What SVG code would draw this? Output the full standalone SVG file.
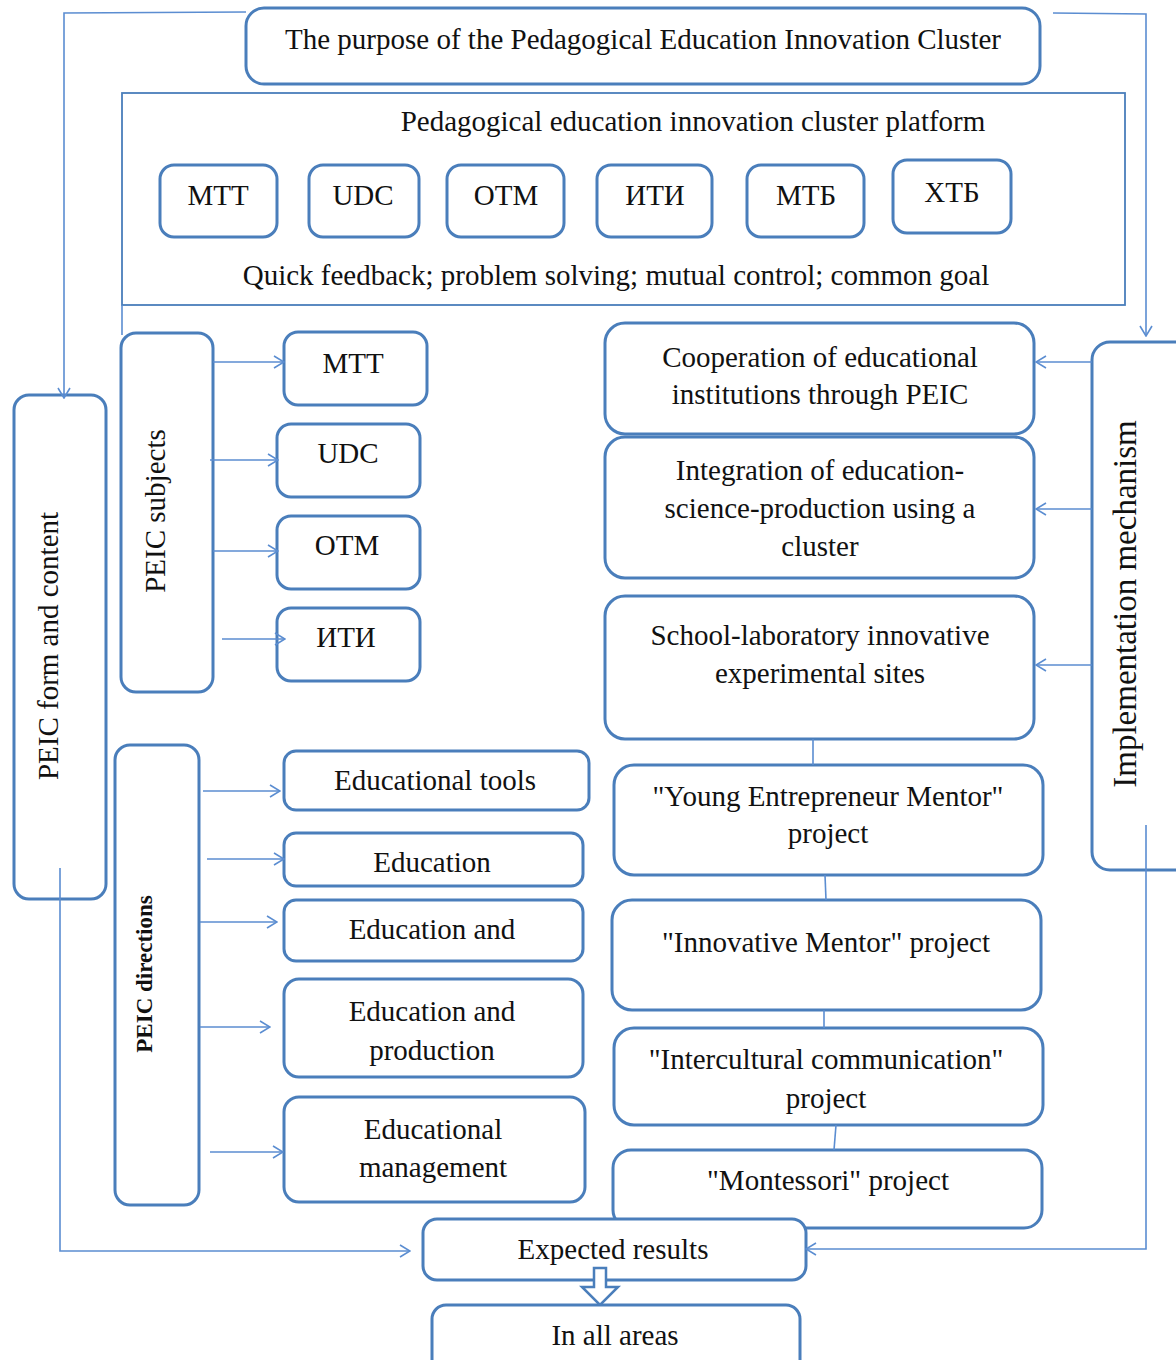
<svg xmlns="http://www.w3.org/2000/svg" width="1176" height="1360" viewBox="0 0 1176 1360">
<defs>
<style>
.box{fill:#fff;stroke:#4a7ebb;stroke-width:3}
.plat{fill:none;stroke:#4a7ebb;stroke-width:1.8}
.ln{fill:none;stroke:#5b8dd1;stroke-width:1.6}
.t{font-family:"Liberation Serif","Times New Roman",serif;font-size:29px;fill:#111;text-anchor:middle}
.tb{font-family:"Liberation Serif","Times New Roman",serif;font-size:23px;font-weight:bold;fill:#111;text-anchor:middle}
</style>
<marker id="ah" viewBox="0 0 12 14" refX="11" refY="7" markerWidth="12" markerHeight="14" markerUnits="userSpaceOnUse" orient="auto">
<path d="M1,1 L11,7 L1,13" fill="none" stroke="#5b8dd1" stroke-width="1.6"/>
</marker>
</defs>
<rect width="1176" height="1360" fill="#fff"/>

<g id="purpose">
<rect class="box" x="246" y="8" width="794" height="76" rx="18"/>
<text class="t" x="643" y="49">The purpose of the Pedagogical Education Innovation Cluster</text>
</g>

<g id="platform">
<rect class="plat" x="122" y="93" width="1003" height="212"/>
<text class="t" x="693" y="131">Pedagogical education innovation cluster platform</text>
<text class="t" x="616" y="285">Quick feedback; problem solving; mutual control; common goal</text>
</g>
<g id="p-mtt"><rect class="box" x="160" y="165" width="117" height="72" rx="14"/><text class="t" x="218" y="205">MTT</text></g>
<g id="p-udc"><rect class="box" x="309" y="165" width="110" height="72" rx="14"/><text class="t" x="363" y="205">UDC</text></g>
<g id="p-otm"><rect class="box" x="447" y="165" width="117" height="72" rx="14"/><text class="t" x="506" y="205">OTM</text></g>
<g id="p-iti"><rect class="box" x="597" y="165" width="115" height="72" rx="14"/><text class="t" x="655" y="205">ИТИ</text></g>
<g id="p-mtb"><rect class="box" x="747" y="165" width="117" height="72" rx="14"/><text class="t" x="806" y="205">МТБ</text></g>
<g id="p-xtb"><rect class="box" x="893" y="160" width="118" height="73" rx="14"/><text class="t" x="952" y="202">ХТБ</text></g>

<g id="form-content">
<rect class="box" x="14" y="395" width="92" height="504" rx="15"/>
<text class="t" x="58" y="646" transform="rotate(-90 58 646)">PEIC form and content</text>
</g>

<g id="subjects">
<rect class="box" x="121" y="333" width="92" height="359" rx="15"/>
<text class="t" x="165" y="511" transform="rotate(-90 165 511)">PEIC subjects</text>
</g>
<g id="s-mtt"><rect class="box" x="284" y="332" width="143" height="73" rx="14"/><text class="t" x="353" y="373">MTT</text></g>
<g id="s-udc"><rect class="box" x="277" y="424" width="143" height="73" rx="14"/><text class="t" x="348" y="463">UDC</text></g>
<g id="s-otm"><rect class="box" x="277" y="516" width="143" height="73" rx="14"/><text class="t" x="347" y="555">OTM</text></g>
<g id="s-iti"><rect class="box" x="277" y="608" width="143" height="73" rx="14"/><text class="t" x="346" y="647">ИТИ</text></g>

<g id="directions">
<rect class="box" x="115" y="745" width="84" height="460" rx="15"/>
<text class="tb" x="152" y="974" transform="rotate(-90 152 974)">PEIC directions</text>
</g>
<g id="d-tools"><rect class="box" x="284" y="751" width="305" height="59" rx="12"/><text class="t" x="435" y="790">Educational tools</text></g>
<g id="d-edu"><rect class="box" x="284" y="833" width="299" height="53" rx="12"/><text class="t" x="432" y="872">Education</text></g>
<g id="d-eduand"><rect class="box" x="284" y="900" width="299" height="61" rx="12"/><text class="t" x="432" y="939">Education and</text></g>
<g id="d-eduprod"><rect class="box" x="284" y="979" width="299" height="98" rx="15"/><text class="t" x="432" y="1021">Education and</text><text class="t" x="432" y="1060">production</text></g>
<g id="d-mgmt"><rect class="box" x="284" y="1097" width="301" height="105" rx="15"/><text class="t" x="433" y="1139">Educational</text><text class="t" x="433" y="1177">management</text></g>

<g id="implementation">
<rect class="box" x="1092" y="342" width="100" height="528" rx="18"/>
<text class="t" x="1136" y="604" transform="rotate(-90 1136 604)" style="font-size:33px">Implementation mechanism</text>
</g>

<g id="r-coop"><rect class="box" x="605" y="323" width="429" height="111" rx="20"/><text class="t" x="820" y="367">Cooperation of educational</text><text class="t" x="820" y="404">institutions through PEIC</text></g>
<g id="r-integ"><rect class="box" x="605" y="437" width="429" height="141" rx="20"/><text class="t" x="820" y="480">Integration of education-</text><text class="t" x="820" y="518">science-production using a</text><text class="t" x="820" y="556">cluster</text></g>
<g id="r-school"><rect class="box" x="605" y="596" width="429" height="143" rx="20"/><text class="t" x="820" y="645">School-laboratory innovative</text><text class="t" x="820" y="683">experimental sites</text></g>
<g id="r-young"><rect class="box" x="614" y="765" width="429" height="110" rx="20"/><text class="t" x="828" y="806">"Young Entrepreneur Mentor"</text><text class="t" x="828" y="843">project</text></g>
<g id="r-innov"><rect class="box" x="612" y="900" width="429" height="110" rx="20"/><text class="t" x="826" y="952">"Innovative Mentor" project</text></g>
<g id="r-inter"><rect class="box" x="614" y="1028" width="429" height="97" rx="20"/><text class="t" x="826" y="1069">"Intercultural communication"</text><text class="t" x="826" y="1108">project</text></g>
<g id="r-mont"><rect class="box" x="613" y="1150" width="429" height="78" rx="18"/><text class="t" x="828" y="1190">"Montessori" project</text></g>

<g id="expected">
<rect class="box" x="423" y="1219" width="383" height="61" rx="14"/>
<text class="t" x="613" y="1259">Expected results</text>
</g>
<polygon points="594,1268 606,1268 606,1287 618,1287 600,1305 582,1287 594,1287" fill="#fff" stroke="#4a7ebb" stroke-width="2.5" stroke-linejoin="miter"/>
<g id="all-areas">
<rect class="box" x="432" y="1305" width="368" height="70" rx="14"/>
<text class="t" x="615" y="1345">In all areas</text>
</g>

<g id="connectors">
<path class="ln" d="M246,12 L64,13 L64,398" marker-end="url(#ah)"/>
<path class="ln" d="M1053,13 L1146,14 L1146,336" marker-end="url(#ah)"/>
<path class="ln" d="M60,868 L60,1251 L410,1251" marker-end="url(#ah)"/>
<path class="ln" d="M1146,825 L1146,1249 L806,1249" marker-end="url(#ah)"/>
<path class="ln" d="M122,305 V335"/>
<path class="ln" d="M213,362 H284" marker-end="url(#ah)"/>
<path class="ln" d="M210,460 H278" marker-end="url(#ah)"/>
<path class="ln" d="M213,551 H278" marker-end="url(#ah)"/>
<path class="ln" d="M222,639 H285" marker-end="url(#ah)"/>
<path class="ln" d="M203,791 H280" marker-end="url(#ah)"/>
<path class="ln" d="M207,859 H284" marker-end="url(#ah)"/>
<path class="ln" d="M200,922 H277" marker-end="url(#ah)"/>
<path class="ln" d="M200,1027 H270" marker-end="url(#ah)"/>
<path class="ln" d="M210,1152 H283" marker-end="url(#ah)"/>
<path class="ln" d="M1092,362 H1036" marker-end="url(#ah)"/>
<path class="ln" d="M1092,509 H1036" marker-end="url(#ah)"/>
<path class="ln" d="M1092,665 H1036" marker-end="url(#ah)"/>
<path class="ln" d="M813,739 V765"/>
<path class="ln" d="M825,875 L826,900"/>
<path class="ln" d="M824,1010 V1028"/>
<path class="ln" d="M836,1125 L834,1150"/>
</g>
</svg>
